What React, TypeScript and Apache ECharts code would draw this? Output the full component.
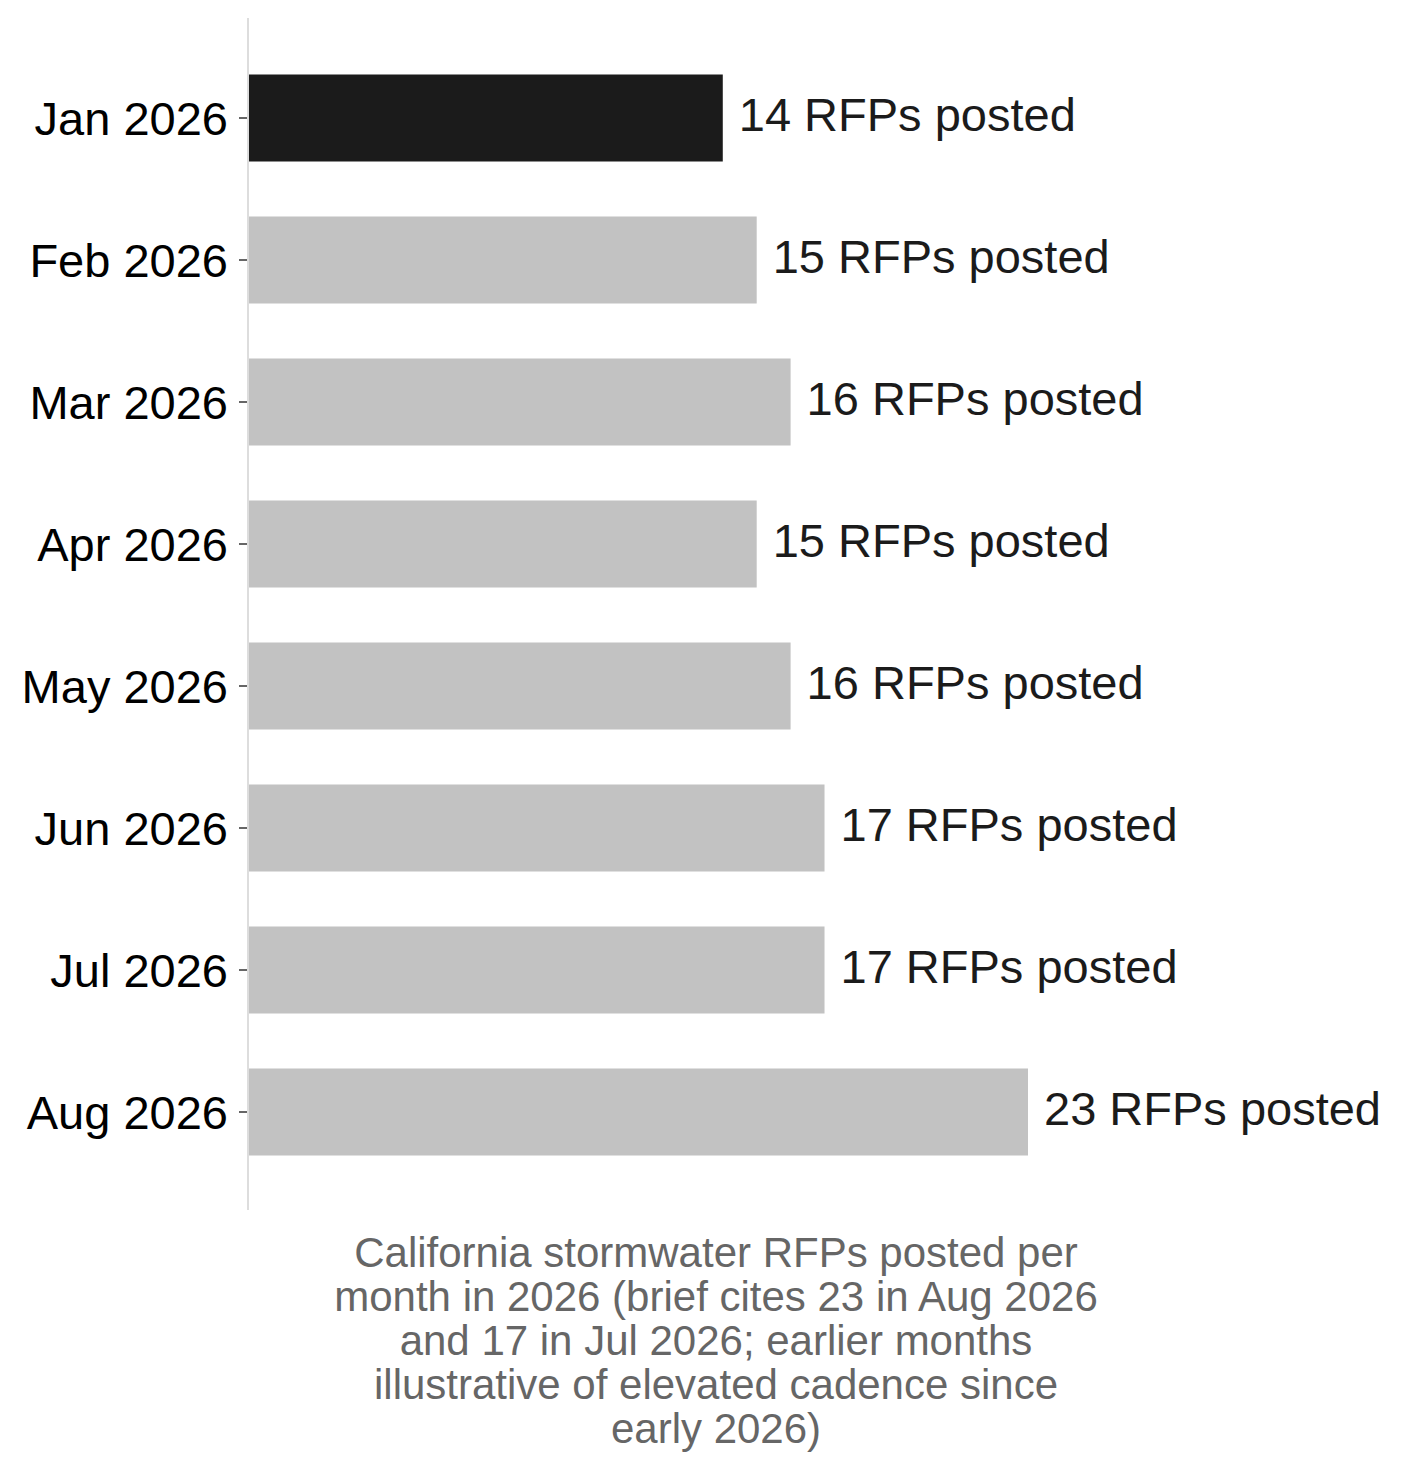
import React, { useEffect, useRef } from 'react';
import * as echarts from 'echarts';

const months = ['Jan 2026', 'Feb 2026', 'Mar 2026', 'Apr 2026', 'May 2026', 'Jun 2026', 'Jul 2026', 'Aug 2026'];
const rfpCounts = [14, 15, 16, 15, 16, 17, 17, 23];
const highlightMonth = 'Jan 2026';
const captionLines = [
  'California stormwater RFPs posted per',
  'month in 2026 (brief cites 23 in Aug 2026',
  'and 17 in Jul 2026; earlier months',
  'illustrative of elevated cadence since',
  'early 2026)',
];

const FONT = '"Liberation Sans", Arial, Helvetica, sans-serif';

const App: React.FC = () => {
  const chartRef = useRef<HTMLDivElement>(null);

  useEffect(() => {
    if (!chartRef.current) return;
    const chart = echarts.init(chartRef.current, null, { renderer: 'svg' });

    const options: echarts.EChartsOption = {
      animation: false,
      backgroundColor: '#ffffff',
      grid: {
        left: 248,
        right: 218,
        top: 47,
        bottom: 289,
      },
      xAxis: {
        type: 'value',
        min: 0,
        max: 27.6,
        show: false,
      },
      yAxis: {
        type: 'category',
        inverse: true,
        data: months,
        axisLine: { show: false },
        axisTick: {
          show: true,
          alignWithLabel: true,
          length: 9,
          lineStyle: { color: '#333', width: 1.5 },
        },
        axisLabel: {
          fontFamily: FONT,
          fontSize: 47,
          color: '#000',
          margin: 20,
        },
      },
      series: [
        {
          type: 'bar',
          barWidth: 87,
          data: rfpCounts.map((v, i) => ({
            value: v,
            itemStyle: { color: months[i] === highlightMonth ? '#1b1b1b' : '#c2c2c2' },
          })),
          label: {
            show: true,
            position: 'right',
            distance: 16,
            offset: [0, -4],
            fontFamily: FONT,
            fontSize: 47,
            color: '#1b1b1b',
            formatter: (p: any) => `${p.value} RFPs posted`,
          },
        },
      ],
      graphic: [
        {
          type: 'line',
          shape: { x1: 248, y1: 18, x2: 248, y2: 1210 },
          style: { stroke: '#dddddd', lineWidth: 2 },
          z: 10,
        },
        {
          type: 'text',
          x: 716,
          y: 1230,
          style: {
            text: captionLines.join('\n'),
            fontFamily: FONT,
            fontSize: 42,
            lineHeight: 44,
            fill: '#666666',
            align: 'center',
            verticalAlign: 'top',
          },
        },
      ],
    };

    chart.setOption(options);
    return () => chart.dispose();
  }, []);

  return (
    <div
      ref={chartRef}
      style={{ position: 'absolute', left: 0, top: 0, width: 1402, height: 1472 }}
    />
  );
};

export default App;
